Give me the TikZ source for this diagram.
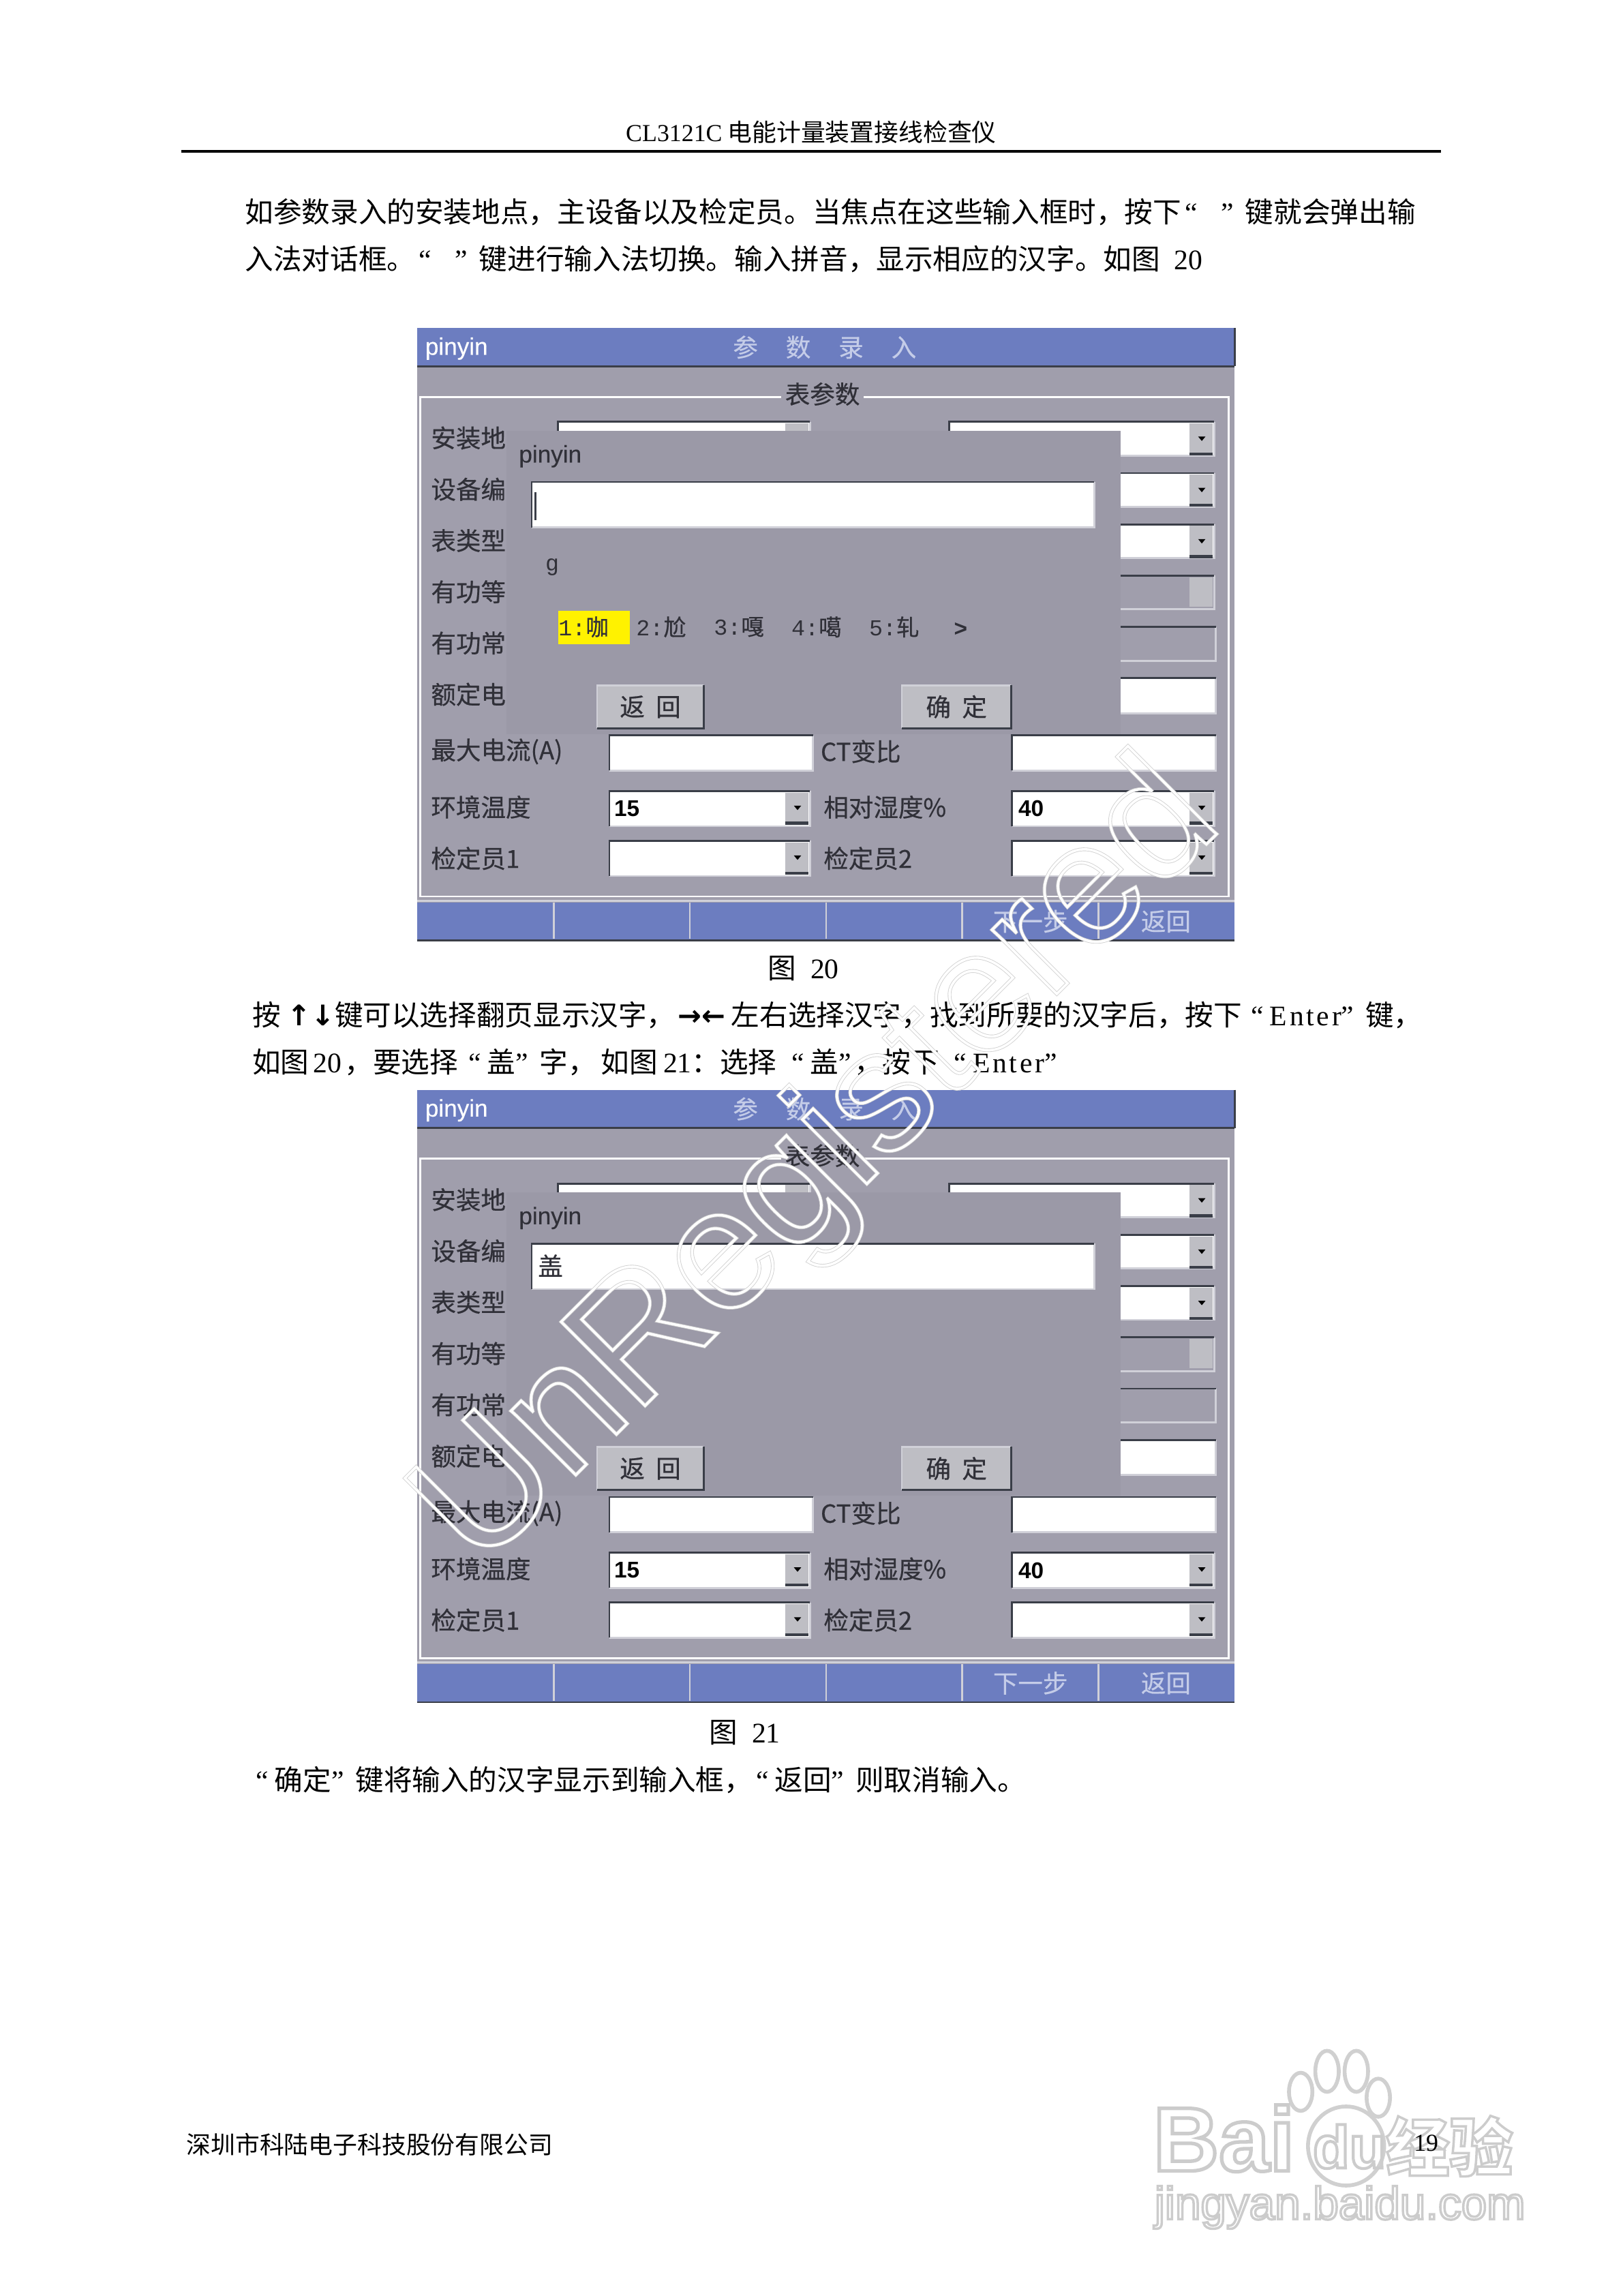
\documentclass[tikz,border=0pt]{standalone}
\usepackage{fontspec}
\setmainfont{Liberation Serif}
\newfontfamily\cjk{Noto Sans CJK SC}
\newfontfamily\uicjk[FakeBold=0.5]{Noto Sans CJK SC}
\newfontfamily\ui[FakeBold=0.4]{Liberation Sans}
\newfontfamily\markfont{Liberation Sans}
\newfontfamily\mono{Liberation Mono}
\newfontfamily\sym{DejaVu Sans}
\newfontfamily\wideser[LetterSpace=9]{Liberation Serif}
\usepackage{xcolor}
\usepackage{tikz}
\usetikzlibrary{positioning}
\definecolor{panelgray}{RGB}{160,158,172}
\definecolor{barblue}{RGB}{108,125,192}
\definecolor{edgedark}{RGB}{58,62,72}
\definecolor{edgelight}{RGB}{208,208,216}
\definecolor{btngray}{RGB}{190,190,196}
\definecolor{labelink}{RGB}{48,48,56}
\definecolor{barink}{RGB}{196,204,232}
\definecolor{markgray}{RGB}{208,208,208}
\newcommand{\inputbox}[5][white]{
	\fill[#1] (#2,#3) rectangle (#4,#5);
	\draw[edgelight,thick] (#4,#3) -- (#4,#5) -- (#2,#5);
	\draw[edgedark,thick] (#2,#5) -- (#2,#3) -- (#4,#3);
}
\newcommand{\dropbtn}[2]{
	\fill[btngray] (#1-16,#2+1) rectangle (#1,#2+23);
	\fill[edgedark] (#1-16,#2+21) rectangle (#1,#2+23);
	\fill[black] (#1-10,#2+10) -- (#1-5,#2+10) -- (#1-7.5,#2+13) -- cycle;
}
\newcommand{\hollow}[3]{\special{pdf:literal direct q 1 Tr #1 w #2 RG}#3\special{pdf:literal direct Q}}
\newcommand{\oq}{\hbox to 0.78em{\hskip.12em\rmfamily “\hfil}}
\newcommand{\cq}{\hbox to 0.85em{\rmfamily ”\hfil}}
\newcommand{\enter}{{\wideser Enter}}

\begin{document}
\begin{tikzpicture}[x=0.0215cm,y=-0.0215cm,node distance=1.14cm,
	pagetext/.style={anchor=west,inner sep=0pt,font=\fontsize{11.85}{12}\selectfont\cjk},
	smalltext/.style={anchor=west,inner sep=0pt,font=\fontsize{10.2}{12}\selectfont\cjk},
	uilabel/.style={anchor=west,inner sep=0pt,text=labelink,font=\fontsize{10.4}{12}\selectfont\uicjk},
	uivalue/.style={anchor=west,inner sep=0pt,text=black,font=\fontsize{9.5}{12}\selectfont\bfseries\markfont},
	barlabel/.style={inner sep=0pt,text=barink,font=\fontsize{10.4}{12}\selectfont\uicjk},
	candidate/.style={anchor=west,inner sep=0pt,text=labelink,font=\fontsize{9.5}{12}\selectfont\uicjk},
	btnlabel/.style={inner sep=0pt,text=labelink,font=\fontsize{10.4}{12}\selectfont\uicjk},
	button/.style={fill=btngray,inner sep=0pt,minimum height=0.62cm},
	pinlabel/.style={anchor=west,inner sep=0pt,font=\fontsize{10}{12}\selectfont\ui}]
	\useasboundingbox (0,0) rectangle (1108,1567.4);
	\node[smalltext] (head) at (427,90) {{\rmfamily CL3121C} 电能计量装置接线检查仪};
	\coordinate (rulea) at (124,103.5);
	\coordinate (ruleb) at (984,103.5);
	\draw[line width=1.1pt] (rulea) -- (ruleb);
	\node[pagetext] (lineone) at (167,145) {如参数录入的安装地点，主设备以及检定员。当焦点在这些输入框时，按下\oq\hspace{.62em}\cq 键就会弹出输};
	\node[pagetext] (linetwo) at (167,177) {入法对话框。\oq\hspace{.62em}\cq 键进行输入法切换。输入拼音，显示相应的汉字。如图{\rmfamily\ \ 20}};

	\foreach \fig/\oy in {a/0,b/520}{
	\begin{scope}[yshift=-\oy*0.0215cm]
		\fill[panelgray] (285,224) rectangle (843,642);
		\fill[barblue] (285,224) rectangle (843,250);
		\draw[edgedark,thick] (285,250) -- (843,250);
		\draw[edgedark,thick] (843,224) -- (843,250);
		\node[pinlabel,text=white] (title\fig) at (290,238) {pinyin};
		\node[barlabel] (head\fig) at (563,237) {参\ \ \ \ \ 数\ \ \ \ \ 录\ \ \ \ \ 入};
		\draw[white,thick] (287,271) rectangle (839,612);
		\node[fill=panelgray,inner sep=1.5pt,text=labelink,font=\fontsize{10.4}{12}\selectfont\uicjk] (group\fig) at (561.5,269) {表参数};
		\foreach \ry/\txt in {299/安装地,334/设备编,369/表类型,404/有功等,439/有功常,474/额定电}{
			\node[uilabel] (l\fig\ry) at (294,\ry) {\txt};
			\inputbox{381}{\ry-11}{553}{\ry+12}
		}
		\dropbtn{552}{288}
		\foreach \ry in {299,334,369}{
			\inputbox{648}{\ry-11}{829}{\ry+12}
			\dropbtn{828}{\ry-11}
		}
		\inputbox[panelgray]{648}{393}{829}{416}
		\fill[btngray] (812,394) rectangle (828,414);
		\inputbox[panelgray]{648}{428}{830}{451}
		\inputbox{648}{463}{830}{487}
		\inputbox{416}{502}{555}{526}
		\inputbox{691}{502}{830}{526}
		\node[uilabel] (lmax\fig) at (294,513) {最大电流(A)};
		\node[uilabel] (lct\fig) at (560,513) {CT变比};
		\node[uilabel] (lenv\fig) at (294,551) {环境温度};
		\inputbox{416}{540}{553}{564}
		\dropbtn{552}{540}
		\node[uivalue] (vtmp\fig) at (419,552) {15};
		\node[uilabel] (lhum\fig) at (562,551) {相对湿度\%};
		\inputbox{691}{540}{829}{564}
		\dropbtn{828}{540}
		\node[uivalue] (vhum\fig) at (695,552) {40};
		\node[uilabel] (lone\fig) at (294,586) {检定员1};
		\inputbox{416}{574}{553}{598}
		\dropbtn{552}{574}
		\node[uilabel] (ltwo\fig) at (562,586) {检定员2};
		\inputbox{691}{574}{829}{598}
		\dropbtn{828}{574}
		\fill[barblue] (285,616) rectangle (843,642);
		\draw[edgelight,thick] (285,615) -- (843,615);
		\draw[edgedark,thick] (285,642) -- (843,642);
		\foreach \bx in {378,471,564,657,750}{
			\draw[edgelight,thick] (\bx,616) -- (\bx,641);
		}
		\node[barlabel] (next\fig) at (703.5,629) {下一步};
		\node[barlabel] (back\fig) at (796,629) {返回};
		\fill[panelgray!97!black] (346,294) rectangle (765,501);
		\node[pinlabel,text=labelink] (dlg\fig) at (354,311.5) {pinyin};
		\inputbox{363}{329}{747}{360}
		\node[button,minimum width=1.55cm] (cancel\fig) at (444,482.5) {};
		\node[btnlabel] at (cancel\fig) {返\ \ 回};
		\node[button,minimum width=1.59cm] (ok\fig) at (653,482.5) {};
		\node[btnlabel] at (ok\fig) {确\ \ 定};
		\foreach \btn in {cancel\fig,ok\fig}{
			\draw[edgelight,thick] (\btn.south west) -- (\btn.north west) -- (\btn.north east);
			\draw[edgedark,thick] (\btn.south west) -- (\btn.south east) -- (\btn.north east);
		}
	\end{scope}
	}

	\draw[edgedark,thick] (365.5,336) -- (365.5,355);
	\node[candidate,font=\fontsize{9.5}{12}\selectfont\mono] (typed) at (372,387) {g};
	\fill[yellow] (381,417) rectangle (430,440);
	\node[candidate] (canda) at (381,428) {{\mono 1:}咖};
	\node[candidate] (candb) [right of=canda] {{\mono 2:}尬};
	\node[candidate] (candc) [right of=candb] {{\mono 3:}嘎};
	\node[candidate] (candd) [right of=candc] {{\mono 4:}噶};
	\node[candidate] (cande) [right of=candd] {{\mono 5:}轧};
	\node[candidate,font=\fontsize{9.5}{12}\selectfont\bfseries\markfont] (more) at (651,430) {>};
	\node[pagetext,font=\fontsize{11.85}{12}\selectfont\rmfamily] (capa) at (524,661) {{\cjk 图}\ \ 20};
	\node[pagetext] (linethree) at (172,693) {按 {\sym\bfseries ↑↓}键可以选择翻页显示汉字，\hspace{.1em}{\sym\bfseries →←}\hspace{.2em}左右选择汉字，找到所要的汉字后，按下\hspace{.2em}\oq\enter\cq 键，};
	\node[pagetext] (linefour) at (172,725) {如图\hspace{.15em}{\rmfamily 20}\hspace{.1em}，要选择\hspace{.25em}\oq 盖\cq 字，\hspace{.15em}如图\hspace{.2em}{\rmfamily 21}：选择\hspace{.4em}\oq 盖\cq\hspace{-.3em}，按下\hspace{.4em}\oq\enter\cq};
	\node[candidate,font=\fontsize{10.4}{12}\selectfont\uicjk] (typedb) at (367,864) {盖};
	\node[pagetext,font=\fontsize{11.85}{12}\selectfont\rmfamily] (capb) at (484,1183) {{\cjk 图}\ \ 21};
	\node[pagetext] (linefive) at (172,1215) {\oq 确定\cq 键将输入的汉字显示到输入框，\oq 返回\cq 则取消输入。};
	\node[smalltext] (foot) at (127,1464) {深圳市科陆电子科技股份有限公司};

	\node[rotate=45,anchor=base west,inner sep=0pt,font=\fontsize{72}{72}\selectfont\markfont] (regmark) at (327,1073) {\hollow{1.5}{0.82 0.82 0.82}{UnRegistered}};
	\node[rotate=45,anchor=base west,inner sep=0pt,font=\fontsize{72}{72}\selectfont\markfont] (regmarkb) at (327,1073) {\hollow{1}{1 1 1}{UnRegistered}};

	\foreach \px/\py/\rx/\ry in {906/1414/8/14,926/1414/8/14,888/1428/8/13,941/1432/8/13}{
		\draw[markgray,line width=1.6pt] (\px,\py) ellipse ({\rx} and {\ry});
	}
	\draw[markgray,line width=1.6pt] (919,1465) ellipse (26 and 27);
	\node[inner sep=0pt,anchor=base west,font=\fontsize{38}{38}\selectfont\bfseries\markfont] (baimark) at (787,1482) {\hollow{1.5}{0.8 0.8 0.8}{Bai}};
	\node[inner sep=0pt,anchor=base west,font=\fontsize{25}{25}\selectfont\bfseries\markfont] (dumark) at (896,1480) {\hollow{1.2}{0.8 0.8 0.8}{du}};
	\node[inner sep=0pt,anchor=base west,font=\fontsize{26.5}{27}\selectfont\bfseries\cjk] (jymark) at (946,1482) {\hollow{1}{0.8 0.8 0.8}{经验}};
	\node[inner sep=0pt,anchor=base west,font=\fontsize{19.2}{21}\selectfont\markfont] (urlmark) at (788,1515) {\hollow{1}{0.8 0.8 0.8}{jingyan.baidu.com}};
	\node[anchor=west,inner sep=0pt,font=\fontsize{10.2}{12}\selectfont\rmfamily] (pageno) at (965,1463) {19};
\end{tikzpicture}
\end{document}
